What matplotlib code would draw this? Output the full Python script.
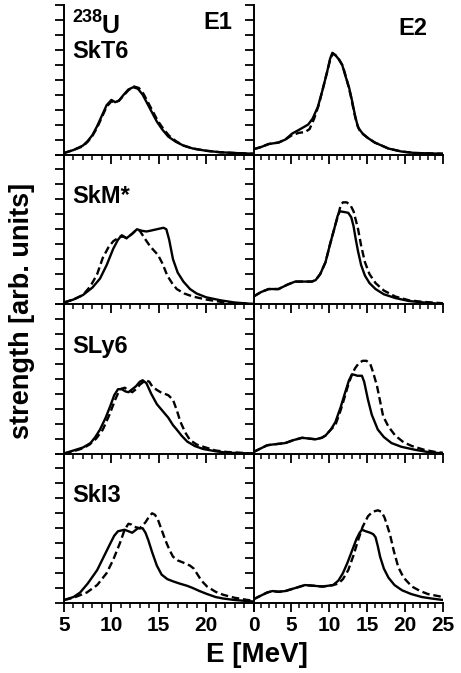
import matplotlib
matplotlib.use("Agg")
import matplotlib.pyplot as plt
from matplotlib.ticker import MultipleLocator

plt.rcParams['font.family'] = ['Liberation Sans', 'DejaVu Sans']
plt.rcParams['font.weight'] = 'bold'

# forces (rows) and multipolarities (columns)
forces = ['SkT6', 'SkM*', 'SLy6', 'SkI3']
modes = ['E1', 'E2']

# E1 strength (energy in MeV, strength in arb. units), solid curves
e1_solid_E = {
    'SkT6': [5, 6, 7, 7.5, 8, 8.5, 9, 9.5, 10, 10.4, 10.8, 11.3, 11.8, 12.3, 12.8, 13.3, 13.8,
             14.3, 14.8, 15.4, 16, 16.8, 17.6, 18.6, 20, 21.5, 23, 25],
    'SkM*': [5, 6, 7, 8, 8.8, 9.5, 10.2, 10.7, 11.1, 11.6, 12.2, 12.7, 13.2, 13.7, 14.1, 14.8,
             15.5, 15.8, 16.1, 16.5, 17.0, 17.6, 18.3, 19.0, 20, 21.5, 23, 25],
    'SLy6': [5, 6, 7, 7.8, 8.3, 8.8, 9.4, 9.9, 10.3, 10.7, 11.1, 11.5, 11.8, 12.2, 12.6, 13.0,
             13.3, 13.7, 14.2, 14.8, 15.4, 16.0, 16.5, 16.9, 17.4, 18.0, 18.8, 19.7, 21, 22.2, 25],
    'SkI3': [5, 6, 6.7, 7.5, 8.5, 9.2, 9.9, 10.3, 10.7, 11.4, 12.2, 12.8, 13.3, 13.6, 13.9, 14.3,
             14.8, 15.3, 15.9, 16.5, 17.2, 18.0, 18.6, 19.3, 20.1, 21, 21.8, 23, 25],
}
e1_solid_S = {
    'SkT6': [0.01, 0.03, 0.06, 0.09, 0.13, 0.19, 0.26, 0.33, 0.365, 0.35, 0.36, 0.40, 0.435, 0.45,
             0.44, 0.40, 0.34, 0.28, 0.22, 0.165, 0.12, 0.085, 0.06, 0.04, 0.025, 0.015, 0.01, 0.005],
    'SkM*': [0.01, 0.03, 0.06, 0.11, 0.17, 0.26, 0.37, 0.43, 0.46, 0.44, 0.47, 0.50, 0.49, 0.485,
             0.49, 0.50, 0.51, 0.50, 0.43, 0.30, 0.21, 0.15, 0.10, 0.07, 0.045, 0.025, 0.01, 0.0],
    'SLy6': [0.0, 0.02, 0.04, 0.07, 0.11, 0.16, 0.24, 0.32, 0.39, 0.43, 0.43, 0.415, 0.41, 0.43,
             0.45, 0.48, 0.49, 0.47, 0.40, 0.33, 0.285, 0.24, 0.19, 0.16, 0.12, 0.08, 0.05, 0.03,
             0.015, 0.005, 0.0],
    'SkI3': [0.02, 0.04, 0.07, 0.13, 0.22, 0.31, 0.40, 0.45, 0.48, 0.49, 0.47, 0.50, 0.50, 0.47,
             0.42, 0.34, 0.25, 0.19, 0.16, 0.145, 0.13, 0.115, 0.10, 0.08, 0.06, 0.04, 0.03, 0.02, 0.01],
}
# E1 strength, dashed curves
e1_dash_E = {
    'SkT6': [5, 6, 7, 7.5, 8, 8.5, 9, 9.5, 10, 10.4, 10.8, 11.3, 11.8, 12.4, 12.9, 13.4, 13.9,
             14.4, 14.9, 15.5, 16.1, 16.8, 17.6, 18.6, 20, 21.5, 23, 25],
    'SkM*': [5, 6, 7, 7.8, 8.5, 9.1, 9.7, 10.2, 10.9, 11.3, 11.6, 12.2, 12.7, 13.0, 13.5, 14.1,
             14.6, 14.9, 15.4, 15.9, 16.4, 16.9, 17.7, 18.6, 20, 21.5, 23, 25],
    'SLy6': [5, 6, 7, 7.7, 8.4, 9.1, 9.8, 10.4, 10.9, 11.4, 11.8, 12.2, 12.6, 13.0, 13.6, 14.0,
             14.3, 14.8, 15.2, 16.0, 16.5, 16.9, 17.3, 17.8, 18.3, 19.0, 19.7, 21, 22.2, 25],
    'SkI3': [5, 6, 7.4, 8.5, 9.5, 10.2, 10.9, 11.4, 11.8, 12.1, 12.4, 13.0, 13.6, 14.0, 14.3, 14.6,
             14.9, 15.3, 15.7, 16.1, 16.5, 17.0, 17.6, 18.3, 18.7, 19.0, 19.5, 20.1, 21, 21.8, 23,
             24.4, 25],
}
e1_dash_S = {
    'SkT6': [0.01, 0.03, 0.055, 0.085, 0.125, 0.18, 0.25, 0.32, 0.355, 0.35, 0.36, 0.395, 0.43,
             0.455, 0.445, 0.405, 0.345, 0.285, 0.225, 0.17, 0.125, 0.09, 0.06, 0.04, 0.025, 0.015,
             0.01, 0.005],
    'SkM*': [0.01, 0.03, 0.06, 0.12, 0.20, 0.31, 0.38, 0.42, 0.45, 0.45, 0.44, 0.47, 0.50, 0.49,
             0.44, 0.385, 0.35, 0.33, 0.27, 0.19, 0.14, 0.10, 0.07, 0.05, 0.03, 0.015, 0.005, 0.0],
    'SLy6': [0.0, 0.015, 0.035, 0.06, 0.10, 0.16, 0.26, 0.36, 0.43, 0.44, 0.425, 0.41, 0.43, 0.46,
             0.49, 0.48, 0.45, 0.425, 0.41, 0.39, 0.36, 0.29, 0.21, 0.14, 0.09, 0.06, 0.045, 0.02,
             0.01, 0.0],
    'SkI3': [0.02, 0.035, 0.07, 0.12, 0.20, 0.29, 0.40, 0.49, 0.53, 0.525, 0.51, 0.50, 0.54, 0.58,
             0.60, 0.59, 0.56, 0.49, 0.42, 0.36, 0.31, 0.285, 0.27, 0.25, 0.23, 0.20, 0.15, 0.11,
             0.075, 0.055, 0.035, 0.02, 0.015],
}

# E2 strength, solid curves
e2_solid_E = {
    'SkT6': [0, 1, 2, 3.3, 4.2, 5.1, 6, 7.2, 7.8, 8.5, 9.1, 9.7, 10.1, 10.4, 10.8, 11.2, 11.7,
             12.1, 12.6, 13.0, 13.4, 13.8, 14.4, 15.1, 16, 17.8, 19.5, 21.3, 25],
    'SkM*': [0, 1, 2, 3.3, 4.5, 5.5, 6.8, 7.7, 8.2, 8.8, 9.5, 10.1, 10.8, 11.1, 11.4, 12, 12.5,
             12.9, 13.2, 13.5, 13.8, 14.2, 14.7, 15.3, 16.1, 17.2, 18.7, 20.5, 22.5, 25],
    'SLy6': [0, 1, 1.8, 2.5, 3.4, 4.2, 5.3, 6.4, 7.3, 8.2, 9.0, 9.5, 10.2, 10.8, 11.5, 12.1, 12.6,
             13.0, 13.4, 13.7, 14.3, 14.6, 15.1, 15.6, 16.4, 17.2, 18.2, 19.5, 21.3, 23, 25],
    'SkI3': [0, 1, 1.8, 2.5, 3.3, 4.2, 5.5, 6.8, 8, 9.1, 10.5, 11.2, 11.8, 12.4, 13.0, 13.6, 14.0,
             14.3, 14.8, 15.4, 15.8, 16.1, 16.4, 16.7, 17.2, 17.8, 18.6, 19.6, 20.8, 22.2, 23.5, 25],
}
e2_solid_S = {
    'SkT6': [0.035, 0.05, 0.07, 0.08, 0.10, 0.14, 0.165, 0.20, 0.24, 0.32, 0.43, 0.55, 0.64, 0.68,
             0.665, 0.64, 0.60, 0.53, 0.45, 0.36, 0.26, 0.18, 0.14, 0.11, 0.08, 0.04, 0.02, 0.01,
             0.005],
    'SkM*': [0.05, 0.08, 0.10, 0.10, 0.13, 0.15, 0.15, 0.15, 0.16, 0.20, 0.28, 0.40, 0.53, 0.59,
             0.62, 0.615, 0.61, 0.58, 0.52, 0.43, 0.35, 0.26, 0.19, 0.14, 0.10, 0.065, 0.04, 0.02,
             0.01, 0.0],
    'SLy6': [0.01, 0.035, 0.055, 0.06, 0.065, 0.07, 0.09, 0.105, 0.10, 0.095, 0.105, 0.12, 0.16,
             0.21, 0.31, 0.41, 0.49, 0.53, 0.525, 0.52, 0.52, 0.48, 0.36, 0.26, 0.16, 0.11, 0.07,
             0.045, 0.025, 0.01, 0.0],
    'SkI3': [0.025, 0.05, 0.07, 0.08, 0.075, 0.08, 0.10, 0.12, 0.115, 0.11, 0.12, 0.15, 0.20, 0.27,
             0.35, 0.43, 0.47, 0.49, 0.48, 0.47, 0.46, 0.44, 0.38, 0.31, 0.23, 0.17, 0.12, 0.085,
             0.06, 0.04, 0.03, 0.02],
}
# E2 strength, dashed curves
e2_dash_E = {
    'SkT6': [0, 1, 2, 3.3, 4.2, 5.1, 6, 6.8, 7.4, 8, 8.6, 9.2, 9.8, 10.2, 10.5, 10.9, 11.3, 11.8,
             12.3, 12.8, 13.2, 13.6, 14.1, 15.1, 16, 17.8, 19.5, 21.3, 25],
    'SkM*': [0, 1, 2, 3.3, 4.5, 5.5, 6.8, 7.7, 8.2, 8.8, 9.5, 10.1, 10.8, 11.2, 11.5, 11.8, 12.3,
             12.8, 13.2, 13.5, 13.8, 14.2, 14.7, 15.3, 16.1, 17.2, 18.7, 20.5, 22.2, 25],
    'SLy6': [0, 1, 1.8, 2.5, 3.4, 4.2, 5.3, 6.4, 7.3, 8.2, 9.0, 9.5, 10.2, 10.8, 11.5, 12.1, 12.5,
             13.0, 13.4, 13.9, 14.4, 14.9, 15.4, 15.8, 16.3, 16.7, 17.1, 17.8, 18.7, 19.8, 20.9,
             22.5, 24, 25],
    'SkI3': [0, 1, 1.8, 2.5, 3.3, 4.2, 5.5, 6.8, 8, 9.1, 10.5, 11.2, 11.8, 12.5, 13.2, 13.8, 14.4,
             15.1, 15.7, 16.4, 16.9, 17.3, 18.0, 18.5, 19.1, 19.8, 20.9, 22, 23, 25],
}
e2_dash_S = {
    'SkT6': [0.035, 0.05, 0.07, 0.08, 0.10, 0.13, 0.145, 0.15, 0.17, 0.24, 0.33, 0.45, 0.57, 0.65,
             0.675, 0.66, 0.635, 0.59, 0.50, 0.40, 0.30, 0.21, 0.15, 0.11, 0.08, 0.04, 0.02, 0.01,
             0.005],
    'SkM*': [0.05, 0.08, 0.10, 0.10, 0.13, 0.15, 0.15, 0.15, 0.16, 0.20, 0.28, 0.40, 0.53, 0.60,
             0.66, 0.68, 0.68, 0.66, 0.62, 0.56, 0.50, 0.39, 0.28, 0.20, 0.14, 0.09, 0.05, 0.025,
             0.015, 0.005],
    'SLy6': [0.01, 0.035, 0.055, 0.06, 0.065, 0.07, 0.09, 0.105, 0.10, 0.095, 0.105, 0.12, 0.16,
             0.19, 0.29, 0.39, 0.46, 0.53, 0.57, 0.605, 0.62, 0.62, 0.60, 0.54, 0.45, 0.35, 0.25,
             0.18, 0.12, 0.075, 0.05, 0.025, 0.01, 0.005],
    'SkI3': [0.025, 0.05, 0.07, 0.08, 0.075, 0.08, 0.10, 0.12, 0.115, 0.11, 0.12, 0.13, 0.16, 0.22,
             0.32, 0.42, 0.51, 0.58, 0.61, 0.62, 0.61, 0.57, 0.46, 0.35, 0.24, 0.17, 0.11, 0.08,
             0.06, 0.04],
}

xlims = {'E1': (5, 25), 'E2': (0, 25)}
xticklabels = {'E1': ['5', '10', '15', '20', ''], 'E2': ['0', '5', '10', '15', '20', '25']}

fig, axes = plt.subplots(4, 2, figsize=(4.61, 6.73), dpi=100, sharey=True)
fig.subplots_adjust(left=64/461, right=443/461, top=1-5/673, bottom=1-603/673,
                    wspace=0, hspace=0)

data = {
    'E1': (e1_solid_E, e1_solid_S, e1_dash_E, e1_dash_S),
    'E2': (e2_solid_E, e2_solid_S, e2_dash_E, e2_dash_S),
}

for i, force in enumerate(forces):
    for j, mode in enumerate(modes):
        ax = axes[i, j]
        ax.patch.set_visible(False)
        sE, sS, dE, dS = data[mode]
        ax.plot(sE[force], sS[force], color='black', lw=1.7, solid_joinstyle='round')
        ax.plot(dE[force], dS[force], color='black', lw=1.7, ls=(0, (3.2, 1.6)))
        ax.set_xlim(*xlims[mode])
        ax.set_ylim(0, 1.0)
        for side in ['top', 'right']:
            ax.spines[side].set_visible(False)
        for side in ['left', 'bottom']:
            ax.spines[side].set_linewidth(1.4)
        ax.xaxis.set_major_locator(MultipleLocator(5))
        ax.xaxis.set_minor_locator(MultipleLocator(1))
        ax.yaxis.set_major_locator(MultipleLocator(0.1))
        ax.tick_params(axis='both', which='major', direction='out', length=6.5, width=1.3,
                       labelsize=15, pad=3)
        ax.tick_params(axis='x', which='minor', direction='out', length=3.5, width=1.1)
        ax.tick_params(axis='y', labelleft=False)
        if i < 3:
            ax.tick_params(axis='x', labelbottom=False)
        else:
            lo, hi = xlims[mode]
            ax.set_xticks(range(lo, hi + 1, 5))
            ax.set_xticklabels(xticklabels[mode], fontweight='bold')
        if j == 0:
            ax.text(0.045, 0.647 if i == 0 else 0.675, force, transform=ax.transAxes,
                    fontsize=17, fontweight='bold', va='baseline', ha='left')

ax0 = axes[0, 0]
ax0.text(0.045, 0.885, '238', transform=ax0.transAxes, fontsize=13,
         fontweight='bold', va='baseline', ha='left')
ax0.text(0.2, 0.815, 'U', transform=ax0.transAxes, fontsize=18,
         fontweight='bold', va='baseline', ha='left')
ax0.text(0.89, 0.84, 'E1', transform=ax0.transAxes, fontsize=17,
         fontweight='bold', va='baseline', ha='right')
axes[0, 1].text(0.92, 0.80, 'E2', transform=axes[0, 1].transAxes, fontsize=17,
                fontweight='bold', va='baseline', ha='right')

fig.text(22/461, 1-311/673, 'strength [arb. units]', rotation=90, fontsize=19.5,
         fontweight='bold', ha='center', va='center')
fig.text(257/461, 1-655/673, 'E [MeV]', fontsize=20, fontweight='bold',
         ha='center', va='center')

fig.savefig('out.png', dpi=100)
